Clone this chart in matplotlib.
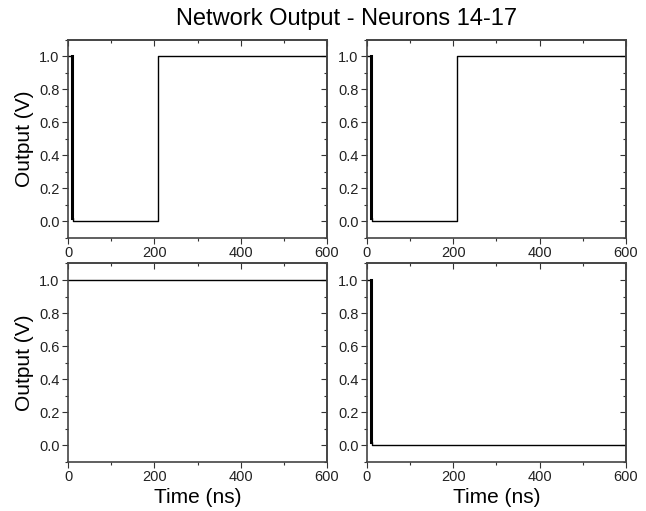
import numpy as np
import matplotlib
matplotlib.use('Agg')
from matplotlib import pyplot as plt
from matplotlib.ticker import MultipleLocator

plt.rcParams['font.family'] = ['Liberation Sans', 'DejaVu Sans']

# neuron outputs (time in ns, output in V)
t14 = [0, 9, 9, 11, 11, 208, 208, 600]
v14 = [1, 1, 0.02, 0.02, 0, 0, 1, 1]
t15 = [0, 9, 9, 11, 11, 208, 208, 600]
v15 = [1, 1, 0.02, 0.02, 0, 0, 1, 1]
t16 = [0, 600]
v16 = [1, 1]
t17 = [0, 9, 9, 11, 11, 600]
v17 = [1, 1, 0.02, 0.02, 0, 0]

series = [(t14, v14), (t15, v15), (t16, v16), (t17, v17)]

fig = plt.figure(figsize=(6.46, 5.11), dpi=100)
lefts = [0.1053, 0.5681]
bottoms = [0.5342, 0.0959]
w, h = 0.4009, 0.3885

for i, (t, v) in enumerate(series):
    r, c = divmod(i, 2)
    ax = fig.add_axes([lefts[c], bottoms[r], w, h])
    ax.plot(t, v, color='black', lw=1.0)
    # thick edge at the start, as in the original trace
    if len(t) > 2:
        ax.plot(t[1:3], v[1:3], color='black', lw=2.2)
    ax.set_xlim(0, 600)
    ax.set_ylim(-0.1, 1.1)
    ax.xaxis.set_major_locator(MultipleLocator(200))
    ax.xaxis.set_minor_locator(MultipleLocator(100))
    ax.yaxis.set_major_locator(MultipleLocator(0.2))
    ax.yaxis.set_minor_locator(MultipleLocator(0.1))
    ax.yaxis.set_major_formatter(matplotlib.ticker.FormatStrFormatter('%.1f'))
    ax.tick_params(which='both', direction='out', top=False, right=False,
                   labelsize=10.5, color='#333333', labelcolor='#222222', pad=2)
    ax.tick_params(which='major', length=4, width=0.8)
    ax.tick_params(which='minor', length=2, width=0.8)
    ax2 = ax.secondary_xaxis('top')
    ax2.tick_params(which='both', direction='in', labeltop=False, color='#333333')
    ax2.xaxis.set_major_locator(MultipleLocator(200))
    ax2.xaxis.set_minor_locator(MultipleLocator(100))
    ax2.tick_params(which='major', length=4, width=0.8)
    ax2.tick_params(which='minor', length=2, width=0.8)
    ax3 = ax.secondary_yaxis('right')
    ax3.tick_params(which='both', direction='in', labelright=False, color='#333333')
    ax3.yaxis.set_major_locator(MultipleLocator(0.2))
    ax3.yaxis.set_minor_locator(MultipleLocator(0.1))
    ax3.tick_params(which='major', length=4, width=0.8)
    ax3.tick_params(which='minor', length=2, width=0.8)
    for s in ax.spines.values():
        s.set_color('#444444')
        s.set_linewidth(1.2)
    for a in (ax2, ax3):
        for s in a.spines.values():
            s.set_color('#444444')
            s.set_linewidth(1.2)
    if c == 0:
        ax.set_ylabel('Output (V)', fontsize=15, labelpad=4)
    if r == 1:
        ax.set_xlabel('Time (ns)', fontsize=15, labelpad=3)

fig.text(0.537, 0.963, 'Network Output - Neurons 14-17', ha='center', va='center', fontsize=17)

plt.savefig('out.png', dpi=100)
